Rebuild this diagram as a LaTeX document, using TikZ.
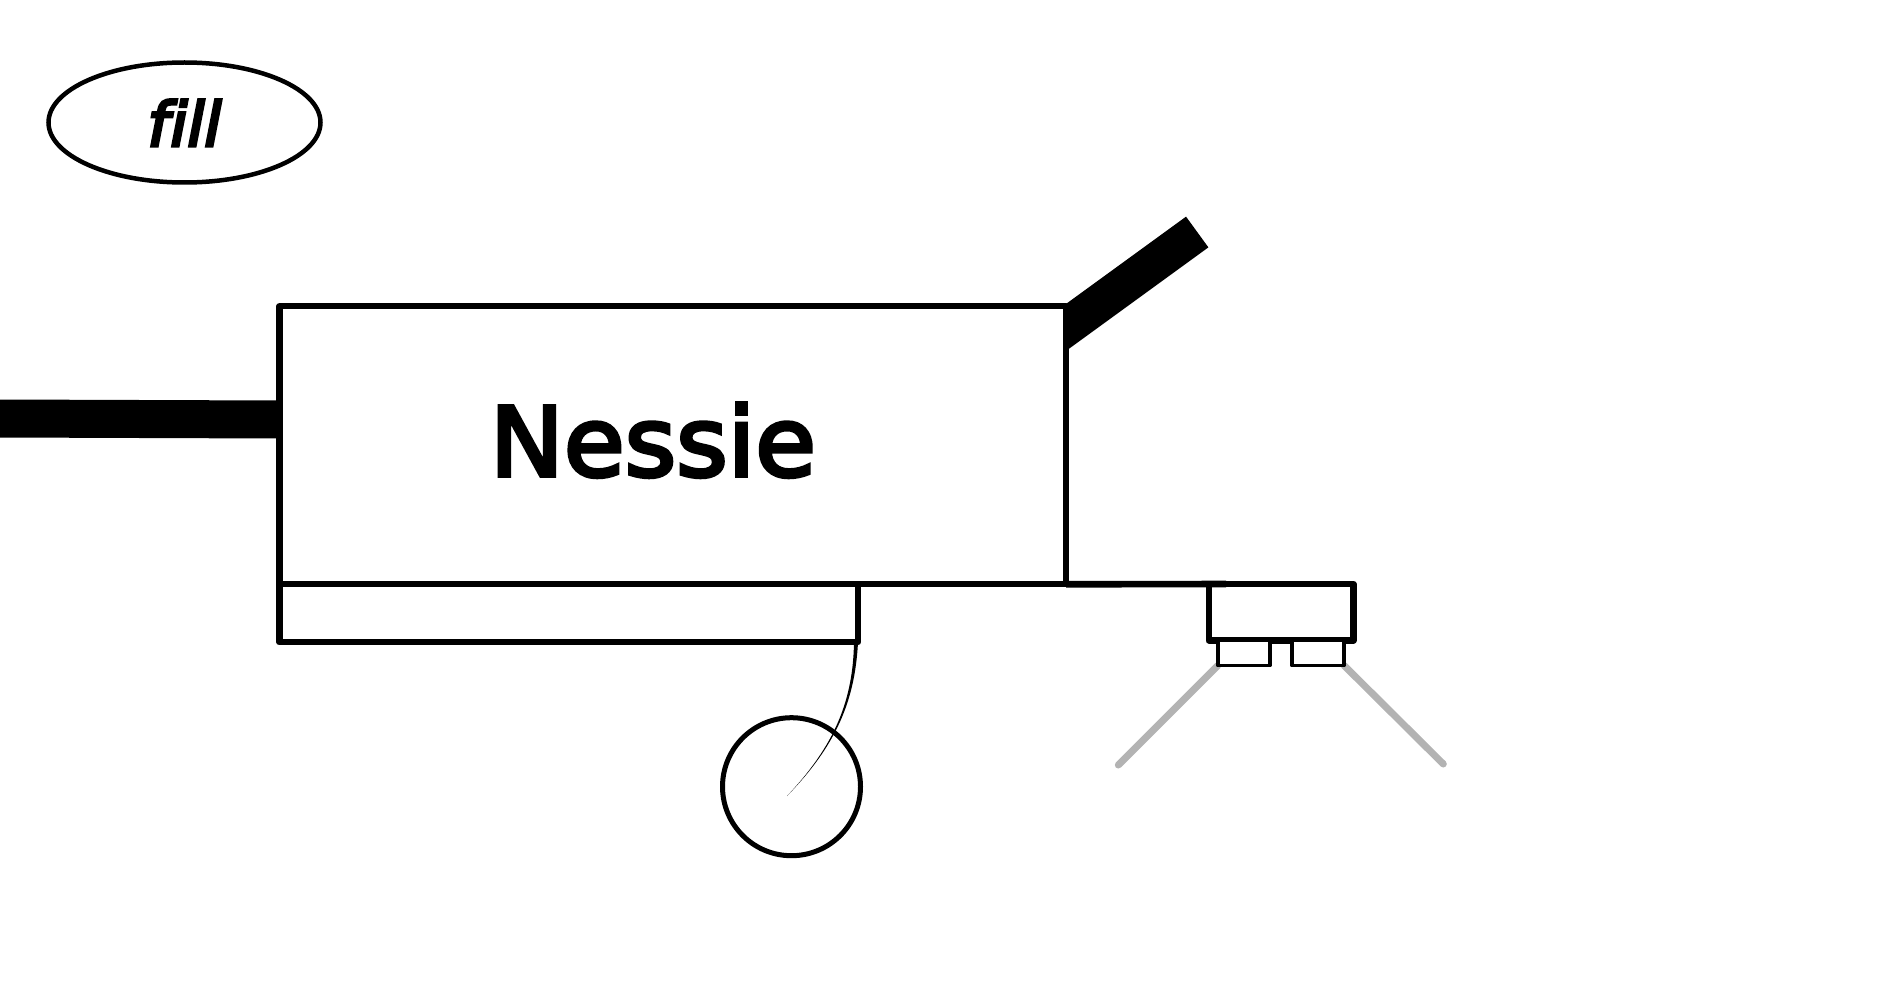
\documentclass[tikz,border=0pt]{standalone}
\usepackage{fontspec}
\newfontface\nessiefont[FakeBold=4,FakeStretch=1.03]{DejaVu Sans}
\newfontface\tagfont[FakeBold=5]{DejaVu Sans Oblique}
\usetikzlibrary{positioning}
\usetikzlibrary{backgrounds}
\usetikzlibrary{shapes.geometric}
\definecolor{leggrey}{HTML}{B3B3B3}
\tikzset{
    box/.style={draw, fill=white, rectangle, inner sep=0pt, outer sep=0pt, line width=6.2pt, line join=round},
    toe/.style={box, line width=3.6pt, minimum width=52.3pt, minimum height=25pt},
    limb/.style={line width=38pt},
    leg/.style={draw=leggrey, line width=7pt, line cap=round},
}
\begin{document}
\begin{tikzpicture}[x=1pt, y=-1pt]
    \useasboundingbox (0,0) rectangle (1890,1003);
    \node[draw, ellipse, line width=4.5pt, inner sep=0pt, minimum width=272pt, minimum height=120pt] (tag) at (184.5,122.5) {};
    \node[anchor=base, inner sep=0pt] (taglabel) at (184.5,146)
        {\tagfont\fontsize{61}{61}\selectfont f\kern1.5pt ill};
    \node[box, anchor=north west, minimum width=786.5pt, minimum height=278pt] (nessie) at (279.5,306.3) {};
    \node[anchor=base, inner sep=0pt] (nessielabel) at (653,476)
        {\nessiefont\fontsize{96}{96}\selectfont Nessie};
    \node[box, below right=0pt and 0pt of nessie.south west, minimum width=578.5pt, minimum height=58pt] (belly) {};
    \node[box, anchor=north west, minimum width=144.7pt, minimum height=56.5pt] (foot) at (1208.8,584) {};
    \node[toe, below right=0pt and 9pt of foot.south west] (toel) {};
    \node[toe, right=21.7pt of toel] (toer) {};
    \node[draw, circle, line width=5pt, inner sep=0pt, minimum size=138pt] (wheel) at (791.5,786.7) {};
    % free ends
    \coordinate (tailend) at (0,418.5);
    \coordinate (tailroot) at (279.5,419.5);
    \coordinate (neckroot) at (1052,337.6);
    \coordinate (necktip) at (1197.2,232);
    \coordinate (legl) at (1118.3,765);
    \coordinate (legr) at (1443.3,764);
    \coordinate (springend) at (787,796);
    % thick parts stay behind the box
    \begin{scope}[on background layer]
        \draw[limb] (tailend) -- (tailroot);
        \draw[limb] (neckroot) -- (necktip);
        \draw[leg] (toel.south west) -- (legl);
        \draw[leg] (toer.south east) -- (legr);
    \end{scope}
    \draw[line width=6.6pt] (nessie.south east) -- (1226,584);
    \fill ([xshift=-4pt]belly.south east) .. controls (853,700) and (835.2,745) .. (springend)
        .. controls (836.8,745) and (855,700) .. (belly.south east) -- cycle;
\end{tikzpicture}
\end{document}
